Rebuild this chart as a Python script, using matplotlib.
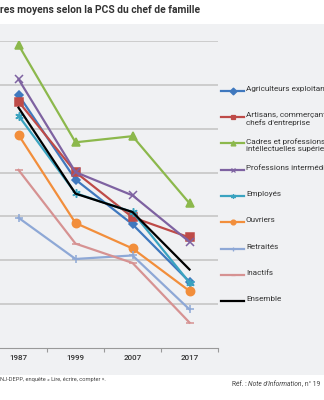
import matplotlib
matplotlib.use("Agg")
import matplotlib.pyplot as plt
from matplotlib.patches import Rectangle
from matplotlib.lines import Line2D

plt.rcParams['font.family'] = ['Roboto', 'DejaVu Sans']

years = ["1987", "1999", "2007", "2017"]
agriculteurs = [237.7, 218.4, 208.2, 195.1]
artisans = [236.2, 220.1, 209.8, 205.2]
cadres = [249.1, 226.9, 228.3, 213.0]
prof_interm = [241.3, 220.1, 214.8, 204.2]
employes = [233.0, 215.3, 211.0, 194.9]
ouvriers = [228.6, 208.5, 202.7, 193.0]
retraites = [209.7, 200.3, 201.1, 188.8]
inactifs = [220.6, 203.8, 199.4, 185.8]
ensemble = [234.8, 215.2, 211.0, 197.9]

labels = ["Agriculteurs exploitants", "Artisans, commerçants,\nchefs d'entreprise",
          "Cadres et professions\nintéllectuelles supérieures", "Professions intermédiaires",
          "Employés", "Ouvriers", "Retraités", "Inactifs", "Ensemble"]
series = [agriculteurs, artisans, cadres, prof_interm, employes, ouvriers, retraites, inactifs, ensemble]
colors = ["#3f78be", "#be4b48", "#8cb84c", "#7e62a1", "#3aa3c0", "#f28e3b", "#8ea8d6", "#d69292", "#000000"]
markers = ["D", "s", "^", "x", (6, 2, 0), "o", "+", "_", None]
msizes = [4, 5.5, 5.5, 6, 6, 6, 6, 6, 0]

W, H = 324, 400
fig = plt.figure(figsize=(W / 100, H / 100), dpi=100)
fig.patch.set_facecolor("white")

# gray panel behind the chart
fig.patches.append(Rectangle((0, 1 - 375 / H), 1, (375 - 24) / H, transform=fig.transFigure,
                             facecolor="#f0f1f3", edgecolor="none", zorder=-5))

ax = fig.add_axes([-10 / W, 1 - 348 / H, 228 / W, (348 - 41) / H])
ax.set_facecolor("none")
x = list(range(len(years)))
for vals, c, m, ms in zip(series, colors, markers, msizes):
    ax.plot(x, vals, color=c, lw=1.6, marker=m, markersize=ms, markeredgewidth=1.1, zorder=3)

ax.set_xlim(-0.5, 3.5)
ax.set_ylim(180, 250)
ax.set_yticks(range(190, 251, 10))
ax.yaxis.grid(True, color="#c6c6c6", lw=1.2)
ax.set_axisbelow(True)
ax.tick_params(axis="y", left=False, labelleft=False)
ax.set_xticks(x)
ax.set_xticklabels(years, fontsize=5.8, color="#333333", fontweight="medium")
ax.set_xticks([-0.5, 0.5, 1.5, 2.5, 3.5], minor=True)
ax.tick_params(axis="x", which="major", length=0, pad=5)
ax.tick_params(axis="x", which="minor", length=3, color="#999999", width=0.8)
for s in ["top", "right", "left"]:
    ax.spines[s].set_visible(False)
ax.spines["bottom"].set_color("#999999")
ax.spines["bottom"].set_linewidth(0.8)

# legend drawn by hand
y0, step = 90.7, 26.3
for i, (lab, c, m) in enumerate(zip(labels, colors, markers)):
    yy = 1 - (y0 + i * step) / H
    fig.add_artist(Line2D([221 / W, 244 / W], [yy, yy], transform=fig.transFigure, color=c, lw=1.6))
    if m is not None:
        fig.add_artist(Line2D([232.5 / W], [yy], transform=fig.transFigure, color=c, lw=0,
                              marker=m, markersize=3.5, markeredgewidth=0.9))
    fig.text(246 / W, yy + 4.9 / H, lab, fontsize=5.9, color="#333333", va="top", ha="left",
             linespacing=1.2)

fig.text(0, 1 - 10 / H, "res moyens selon la PCS du chef de famille", fontsize=7.4,
         fontweight="bold", color="#333333", va="center", ha="left")
fig.text(0, 1 - 379 / H, "NJ-DEPP, enquête « Lire, écrire, compter ».", fontsize=4.1,
         color="#444444", va="center", ha="left")

# reference line with italic part
fig.canvas.draw()
r = fig.canvas.get_renderer()
xpos = 232
for part, style in [("Réf. : ", "normal"), ("Note d'Information", "italic"), (", n° 19", "normal")]:
    t = fig.text(xpos / W, 1 - 384 / H, part, fontsize=4.8, color="#444444", va="center",
                 ha="left", style=style)
    xpos += t.get_window_extent(r).width

fig.savefig("out.png", dpi=100)
